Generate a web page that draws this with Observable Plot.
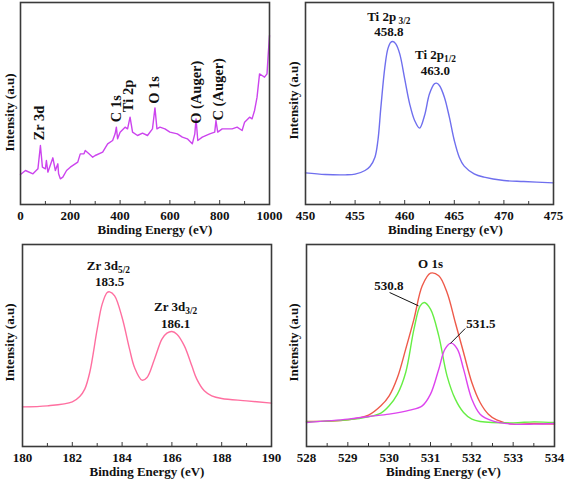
<!DOCTYPE html>
<html><head><meta charset="utf-8">
<script src="https://cdn.jsdelivr.net/npm/d3@7"></script>
<script src="https://cdn.jsdelivr.net/npm/@observablehq/plot@0.6"></script>
<style>
body{margin:0;background:#fff;}
#wrap{position:relative;width:567px;height:484px;overflow:hidden;}
#wrap svg{position:absolute;}
</style></head><body><div id="wrap"></div>
<script>
// ---- Survey spectrum ----
const surveyE = [0,20,50,70,80,88,100,104,110,130,140,150,153,160,170,185,200,230,240,255,260,275,290,300,330,350,370,380,385,390,400,420,430,440,450,470,490,510,530,540,548,560,580,600,630,650,670,690,700,705,712,730,760,780,785,792,810,850,870,890,900,920,930,940,950,960,970,980,990,995,1000];
const surveyI = [90,102,92,107,177,112,107,132,97,140,102,122,92,77,82,102,112,127,152,152,162,152,142,147,157,182,192,212,232,197,217,232,227,262,217,207,214,207,227,290,227,232,227,217,212,202,197,182,212,257,192,202,212,217,252,217,227,227,232,222,247,262,257,282,322,392,387,382,392,452,507];
const surveyLabels = ["Zr 3d","C 1s","Ti 2p","O 1s","O (Auger)","C (Auger)"];
const surveyLabelE = [75,386,433,537,708,795];
const surveyLabelI = [192,247,277,302,242,252];

// ---- Ti 2p ----
const tiE = [450,452,454,455,456,456.5,457,457.3,457.6,458,458.3,458.6,458.8,459.1,459.5,460,460.5,461,461.5,462,462.5,463,463.2,463.5,464,464.5,465,465.5,466,467,468,470,472,475];
const tiI = [95,90,89,91,102,114,142,192,292,412,467,487,489,482,452,377,302,252,229,267,332,362,364,357,322,262,192,142,115,92,82,72,69,65];
const tiLabels = ["Ti 2p_ 3/2","458.8","Ti 2p_1/2","463.0"];
const tiLabelE = [458.4,458.4,463.1,463.1];
const tiLabelI = [562,517,449,402];

// ---- Zr 3d ----
const zrE = [180,181,182,182.3,182.5,182.7,183,183.2,183.4,183.5,183.7,184,184.3,184.5,184.8,185,185.3,185.6,185.8,186,186.2,186.5,186.8,187,187.3,187.6,188,189,190];
const zrI = [119,122,134,150,172,222,352,427,462,464,452,387,292,237,199,207,262,322,340,345,337,302,242,202,167,152,144,137,130];
const zrLabels = ["Zr 3d_5/2","183.5","Zr 3d_3/2","186.1"];
const zrLabelE = [183.45,183.5,186.15,186.15];
const zrLabelI = [542,494,419,369];

// ---- O 1s ----
const oTotalE = [528,529,529.5,529.8,530,530.2,530.4,530.6,530.8,531,531.2,531.4,531.6,531.8,532,532.2,532.4,532.6,533,533.5,534];
const oTotalI = [75,80,94,122,152,207,292,382,482,520,512,462,372,282,192,132,97,80,67,69,67];
const oAE = [528,529,529.5,529.8,530,530.2,530.4,530.6,530.75,530.85,531,531.2,531.4,531.6,531.8,532,532.2,533,533.5,534];
const oAI = [74,80,89,100,122,157,222,352,422,432,412,332,212,142,102,82,75,71,74,72];
const oBE = [528,529,529.5,530,530.5,530.8,531,531.2,531.35,531.5,531.65,531.8,532,532.2,532.5,533,533.5,534];
const oBI = [72,82,90,97,109,122,157,232,292,310,292,232,142,97,77,67,67,69];
const oLabels = ["O 1s","530.8","531.5"];
const oLabelE = [531,529.99,532.22];
const oLabelI = [547,482,367];
const oLeaderE1 = [530.01,531.84], oLeaderI1 = [462,354];
const oLeaderE2 = [530.71,531.48], oLeaderI2 = [422,309];

const zip = (xs, ys) => xs.map((x,i)=>({x, y: ys[i]}));
const NS = "http://www.w3.org/2000/svg";
const FONT = "Liberation Serif";
const frameColor = "#3a3a3a";

function subscripts(svg){
  svg.querySelectorAll("text").forEach(t=>{
    const s = t.textContent;
    if(!s.includes("_")) return;
    const [a,b] = s.split("_");
    t.textContent = "";
    const t1 = document.createElementNS(NS,"tspan"); t1.textContent = a;
    const t2 = document.createElementNS(NS,"tspan"); t2.textContent = b;
    t2.setAttribute("font-size","72%"); t2.setAttribute("dy","0.3em");
    t.append(t1,t2);
  });
}

function panel(o){
  const innerH = o.height - o.mt - o.mb;
  const svg = Plot.plot({
    width: o.width, height: o.height,
    marginLeft: o.ml, marginRight: o.mr, marginTop: o.mt, marginBottom: o.mb,
    style: {fontFamily: FONT, fontWeight: "bold", fontSize: "13px", color: "#111", background: "transparent"},
    x: {domain: o.xDomain},
    y: {domain: [0, 606], axis: null},
    marks: [
      ...o.marks,
      Plot.ruleX(o.majors, {x: d=>d, insetTop: innerH - 4, stroke: frameColor, strokeWidth: 1}),
      Plot.ruleX(o.minors, {x: d=>d, insetTop: innerH - 3, stroke: frameColor, strokeWidth: 1}),
      Plot.axisX({ticks: o.majors, tickSize: 0, tickPadding: 6, label: null, fontSize: 13, tickFormat: d=>String(d)}),
      Plot.frame({stroke: frameColor, strokeWidth: 1.6}),
      Plot.text(["Intensity (a.u)"], {frameAnchor: "left", textAnchor: "middle", rotate: -90, dx: o.ylx, dy: o.yly, fontSize: 13}),
      Plot.text(["Binding Energy (eV)"], {frameAnchor: "bottom", textAnchor: "middle", lineAnchor: "middle", dy: 25, dx: o.xlx, fontSize: 13})
    ]
  });
  subscripts(svg);
  svg.style.left = o.left + "px";
  svg.style.top = o.top + "px";
  document.getElementById("wrap").appendChild(svg);
}

const range = (a,b,s) => d3.range(a, b + s/2, s);

panel({
  left: 0, top: 0, width: 283, height: 242, ml: 20, mr: 14, mt: 2, mb: 38,
  xDomain: [0,1000], majors: range(0,1000,200), minors: range(100,900,200),
  ylx: -11, yly: 9, xlx: 10,
  marks: [
    Plot.line(zip(surveyE, surveyI), {x: "x", y: "y", stroke: "#cc44ee", strokeWidth: 1.4}),
    Plot.text(surveyLabels.map((t,i)=>({t, x: surveyLabelE[i], y: surveyLabelI[i]})), {x: "x", y: "y", text: "t", rotate: -90, textAnchor: "start", fontSize: 14.5, fill: "#111"})
  ]
});

panel({
  left: 283, top: 0, width: 284, height: 242, ml: 22, mr: 14, mt: 2, mb: 38,
  xDomain: [450,475], majors: range(450,475,5), minors: range(452.5,472.5,5),
  ylx: -12, yly: -3, xlx: 16,
  marks: [
    Plot.line(zip(tiE, tiI), {x: "x", y: "y", stroke: "#6f6fee", strokeWidth: 1.4, curve: "catmull-rom"}),
    Plot.text(tiLabels.map((t,i)=>({t, x: tiLabelE[i], y: tiLabelI[i]})), {x: "x", y: "y", text: "t", fontSize: 13, fill: "#111"})
  ]
});

panel({
  left: 0, top: 242, width: 283, height: 242, ml: 22, mr: 12, mt: 2, mb: 38,
  xDomain: [180,190], majors: range(180,190,2), minors: range(181,189,2),
  ylx: -13, yly: -3, xlx: 0,
  marks: [
    Plot.line(zip(zrE, zrI), {x: "x", y: "y", stroke: "#ff6fa0", strokeWidth: 1.4, curve: "catmull-rom"}),
    Plot.text(zrLabels.map((t,i)=>({t, x: zrLabelE[i], y: zrLabelI[i]})), {x: "x", y: "y", text: "t", fontSize: 13, fill: "#111"})
  ]
});

panel({
  left: 283, top: 242, width: 284, height: 242, ml: 23, mr: 13, mt: 2, mb: 38,
  xDomain: [528,534], majors: range(528,534,1), minors: range(528.5,533.5,1),
  ylx: -13, yly: -3, xlx: 13,
  marks: [
    Plot.line(zip(oTotalE, oTotalI), {x: "x", y: "y", stroke: "#ee5a4a", strokeWidth: 1.4, curve: "catmull-rom"}),
    Plot.line(zip(oAE, oAI), {x: "x", y: "y", stroke: "#66ee44", strokeWidth: 1.4, curve: "catmull-rom"}),
    Plot.line(zip(oBE, oBI), {x: "x", y: "y", stroke: "#dd44ee", strokeWidth: 1.4, curve: "catmull-rom"}),
    Plot.link([0,1], {x1: i=>oLeaderE1[i], y1: i=>oLeaderI1[i], x2: i=>oLeaderE2[i], y2: i=>oLeaderI2[i], stroke: "#111", strokeWidth: 1}),
    Plot.text(oLabels.map((t,i)=>({t, x: oLabelE[i], y: oLabelI[i]})), {x: "x", y: "y", text: "t", fontSize: 13, fill: "#111"})
  ]
});
</script></body></html>
